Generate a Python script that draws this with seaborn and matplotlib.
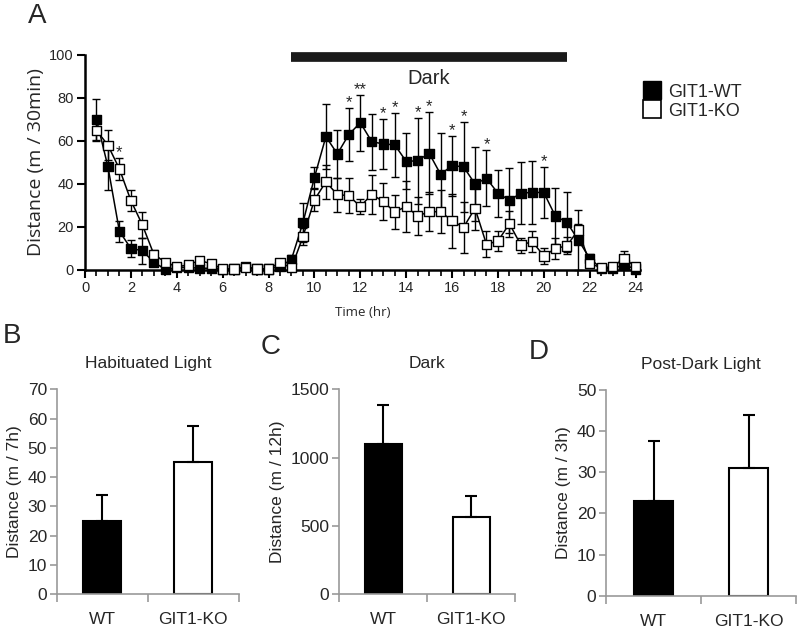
import numpy as np
import pandas as pd
import matplotlib
matplotlib.use('Agg')
import matplotlib.pyplot as plt
import seaborn as sns
from matplotlib.lines import Line2D
from matplotlib.ticker import MultipleLocator

# ---- panel A: distance per 30 min bin ----
hours = [0.5, 1, 1.5, 2, 2.5, 3, 3.5, 4,
         4.5, 5, 5.5, 6, 6.5, 7, 7.5, 8,
         8.5, 9, 9.5, 10, 10.5, 11, 11.5, 12,
         12.5, 13, 13.5, 14, 14.5, 15, 15.5, 16,
         16.5, 17, 17.5, 18, 18.5, 19, 19.5, 20,
         20.5, 21, 21.5, 22, 22.5, 23, 23.5, 24]
wt_mean = [70, 48, 18, 10, 9, 3.6, 0.3, 1,
           1.2, 0.8, 0.8, 0.3, 0.5, 1.5, 0.5, 0.5,
           1.5, 5, 22, 43, 62, 54, 63, 68.5,
           59.7, 58.6, 58.2, 50.5, 50.8, 54.3, 44.5, 48.5,
           48, 40, 42.6, 35.7, 32.4, 35.7, 36.1, 36,
           25.1, 22.2, 14, 5.4, 0.8, 0.8, 2.3, 0.5]
wt_sem = [9.5, 11, 5, 4, 6, 1.5, 0.8, 1,
          1, 1, 1, 0.8, 0.8, 1, 0.8, 0.8,
          1, 2, 9, 5, 15, 11, 12.5, 13,
          13, 11.5, 15, 13, 20, 19, 19, 14,
          21, 17, 13, 11, 15, 14.5, 14.5, 12,
          13, 14, 14, 2, 1, 1, 1.5, 1]
ko_mean = [65, 58, 47, 32.3, 21, 7.3, 3.6, 1.5,
           2.3, 4.5, 2.8, 0.5, 0.5, 1, 0.5, 0.5,
           3.4, 1, 15.5, 32.6, 41, 35, 34.6, 29.5,
           35.2, 31.8, 27, 29.5, 25.1, 27.1, 27.1, 22.9,
           19.8, 28.7, 11.9, 13.5, 21.5, 11.6, 13.2, 6.5,
           10, 11.2, 18.6, 3.1, 1, 1.5, 5.4, 1.5]
ko_sem = [5, 7, 5, 5, 6, 2, 1.5, 1,
          1, 1, 1, 0.8, 0.8, 0.8, 0.8, 0.8,
          1, 1, 4, 5, 8, 8, 8, 3.5,
          9, 8.5, 8, 12, 9, 9, 10, 12.5,
          12, 10, 6, 4.5, 6, 3.5, 5, 3.5,
          4.7, 4, 3, 1, 1, 1, 3.4, 1]

star_hours = [1.5, 11.5, 12, 13, 13.5, 14.5, 15, 16, 16.5, 17.5, 20]
star_marks = ['*', '*', '**', '*', '*', '*', '*', '*', '*', '*', '*']
dark_start, dark_end = 9, 21

# ---- panels B-D: totals ----
groups = ['WT', 'GIT1-KO']
habit_mean = [25, 45]
habit_sem = [9, 12.5]
dark_mean = [1100, 565]
dark_sem = [283, 150]
post_mean = [23, 31]
post_sem = [14.6, 12.9]

sns.set_theme(style='ticks')
plt.rcParams['font.family'] = ['Liberation Sans', 'DejaVu Sans']
humanist = ['Open Sans', 'DejaVu Sans']

fig = plt.figure(figsize=(8, 6.33), dpi=100)

# ---------------- A ----------------
ax = fig.add_axes([0.10625, 0.5735, 0.694, 0.3397])
df = pd.DataFrame({
    'hour': hours * 2,
    'dist': wt_mean + ko_mean,
    'err': wt_sem + ko_sem,
    'genotype': ['GIT1-WT'] * len(hours) + ['GIT1-KO'] * len(hours),
})

for g in ['GIT1-KO', 'GIT1-WT']:
    d = df[df['genotype'] == g]
    ax.errorbar(d['hour'], d['dist'], yerr=d['err'], fmt='none', ecolor='black',
                elinewidth=1, capsize=3, capthick=1, zorder=2, clip_on=False)
sns.lineplot(data=df, x='hour', y='dist', hue='genotype',
             palette={'GIT1-WT': 'black', 'GIT1-KO': 'black'},
             linewidth=1.1, legend=False, ax=ax, zorder=3)
sns.scatterplot(data=df, x='hour', y='dist', hue='genotype',
                palette={'GIT1-WT': 'black', 'GIT1-KO': 'white'},
                marker='s', s=45, edgecolor='black', linewidth=1,
                legend=False, ax=ax, zorder=4, clip_on=False)

# significance stars
for h, m in zip(star_hours, star_marks):
    i = hours.index(h)
    top = max(wt_mean[i] + wt_sem[i], ko_mean[i] + ko_sem[i])
    ax.text(h, top - 1, m, ha='center', va='bottom', fontsize=12)

# dark phase bar
ax.plot([dark_start, dark_end], [99, 99], color='#1a1a1a', lw=7,
        solid_capstyle='butt', clip_on=False)
ax.text((dark_start + dark_end) / 2, 89, 'Dark', ha='center', va='center',
        fontsize=14.5)

ax.set_xlim(0, 24.2)
ax.set_ylim(0, 100)
ax.set_xticks(range(0, 25, 2))
ax.xaxis.set_minor_locator(MultipleLocator(0.5))
ax.set_yticks(range(0, 101, 20))
ax.tick_params(axis='both', which='major', labelsize=10.5, width=1.5,
               length=6, color='black', pad=2)
ax.tick_params(axis='x', which='minor', width=1.2, length=4, color='black')
for s in ['left', 'bottom']:
    ax.spines[s].set_linewidth(1.8)
    ax.spines[s].set_color('black')
sns.despine(ax=ax)
ax.set_xlabel('Time (hr)', fontsize=9.5, family=humanist, labelpad=8)
ax.set_ylabel('Distance (m / 30min)', fontsize=14, family=humanist,
              labelpad=3)

handles = [
    Line2D([], [], marker='s', ls='none', mfc='black', mec='black', ms=13),
    Line2D([], [], marker='s', ls='none', mfc='white', mec='black', ms=13,
           mew=1.2),
]
ax.legend(handles, ['GIT1-WT', 'GIT1-KO'], loc='upper left',
          bbox_to_anchor=(0.792, 0.882), bbox_transform=fig.transFigure,
          frameon=False, fontsize=13, handletextpad=0.4, labelspacing=0.1,
          borderpad=0, handlelength=1)


# ---------------- B-D ----------------
def bar_panel(rect, means, sems, title, ylabel, yticks):
    bx = fig.add_axes(rect)
    d = pd.DataFrame({'group': groups, 'value': means})
    sns.barplot(data=d, x='group', y='value', hue='group', order=groups,
                palette={'WT': 'black', 'GIT1-KO': 'white'},
                edgecolor='black', linewidth=1.5, width=0.42,
                legend=False, ax=bx)
    bx.errorbar([0, 1], means, yerr=[[0, 0], sems], fmt='none',
                ecolor='black', elinewidth=1.5, capsize=4, capthick=1.5)
    bx.set_xlim(-0.5, 1.5)
    bx.set_ylim(0, yticks[-1])
    bx.set_yticks(yticks)
    bx.set_xticks([-0.5, 0.5, 1.5], minor=True)
    bx.tick_params(axis='x', which='major', length=0, labelsize=12.5, pad=13)
    bx.tick_params(axis='x', which='minor', length=6, width=1.2,
                   color='#999999')
    bx.tick_params(axis='y', length=5, width=1.2, color='#999999',
                   labelsize=12.5, pad=2)
    sns.despine(ax=bx)
    for s in ['left', 'bottom']:
        bx.spines[s].set_color('#999999')
        bx.spines[s].set_linewidth(1.2)
    bx.set_xlabel('')
    bx.set_ylabel(ylabel, fontsize=12.5, labelpad=4)
    bx.set_title(title, fontsize=12.5, pad=15)
    return bx


bar_panel([0.071, 0.0616, 0.2275, 0.3234], habit_mean, habit_sem,
          'Habituated Light', 'Distance (m / 7h)', list(range(0, 71, 10)))
bar_panel([0.424, 0.0616, 0.22, 0.3234], dark_mean, dark_sem,
          'Dark', 'Distance (m / 12h)', [0, 500, 1000, 1500])
bar_panel([0.7575, 0.059, 0.2375, 0.325], post_mean, post_sem,
          'Post-Dark Light', 'Distance (m / 3h)', list(range(0, 51, 10)))

# panel letters
fig.text(0.035, 0.995, 'A', fontsize=20, va='top')
fig.text(0.003, 0.49, 'B', fontsize=20, va='top')
fig.text(0.326, 0.472, 'C', fontsize=20, va='top')
fig.text(0.661, 0.465, 'D', fontsize=20, va='top')

fig.savefig('out.png', dpi=100)
